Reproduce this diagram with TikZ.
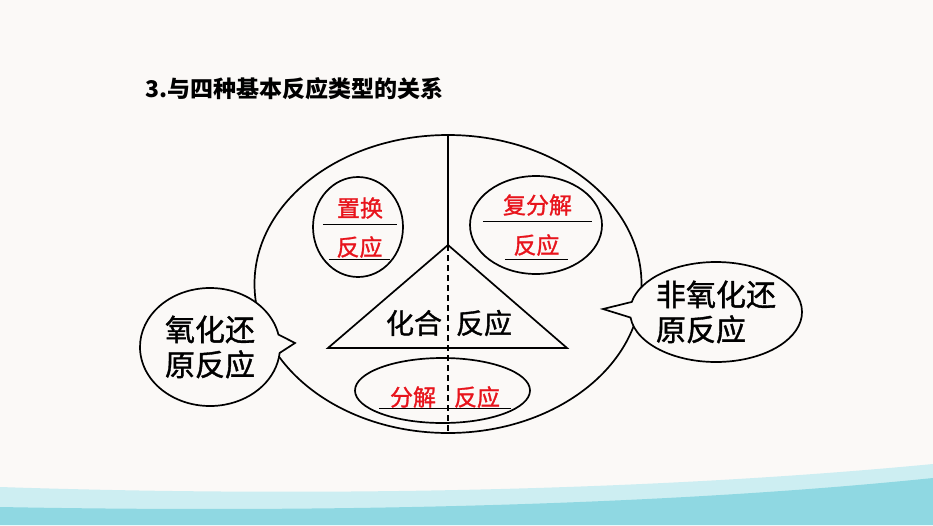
\documentclass[tikz,border=0pt]{standalone}
\usepackage{fontspec}
\newfontfamily\cjk{Noto Sans CJK SC}[FakeBold=1.2]
\newfontfamily\cjkhead{Noto Sans CJK SC}
\usetikzlibrary{shapes.callouts}
\definecolor{paper}{HTML}{FBF9F7}
\definecolor{sea}{HTML}{8FD8E2}
\definecolor{sealight}{HTML}{CDEEF2}
\definecolor{ansred}{HTML}{E8141C}
\tikzset{
  >=stealth,
  outline/.style={line width=1.7pt},
  blank/.style={text=ansred, inner sep=0pt, font=\cjk\fontsize{23pt}{26pt}\selectfont, minimum width=#1},
  uline/.style={line width=1.4pt},
  bubble/.style={ellipse callout, draw, outline, fill=paper, inner sep=0pt, align=left,
    font=\cjk\fontsize{30pt}{35pt}\selectfont, callout pointer arc=18}
}

\begin{document}
\begin{tikzpicture}[x=1pt,y=-1pt]
  \fill[paper] (0,0) rectangle (933,525);
  \useasboundingbox (0,0) rectangle (933,525);
  % brush stroke at the bottom
  \fill[sealight] (0,525) -- (0,487) .. controls (300,497) and (640,492) .. (933,464) -- (933,525) -- cycle;
  \fill[sea] (0,525) -- (0,507) .. controls (320,513) and (660,506) .. (933,478) -- (933,525) -- cycle;

  \node[anchor=west, font=\cjkhead\bfseries\fontsize{23pt}{26pt}\selectfont] (title) at (142,89) {3.与四种基本反应类型的关系};

  % main figure
  \coordinate (top) at (448,135);
  \coordinate (apex) at (448,245);
  \coordinate (bot) at (448,433);
  \draw[outline] (448,284) ellipse [x radius=193.5pt, y radius=149pt];
  \draw[outline] (top) -- (apex);
  \draw[outline] (apex) -- (328,348) -- (567,348) -- cycle;
  \draw[outline] (358,227) ellipse [x radius=45pt, y radius=50pt];
  \draw[outline] (536,225) ellipse [x radius=66pt, y radius=49pt];
  \draw[outline] (442.5,390.5) ellipse [x radius=87.5pt, y radius=32.5pt];
  \draw[outline, dash pattern=on 6pt off 4pt] (apex) -- (bot);

  \node[inner sep=0pt, font=\cjk\fontsize{28pt}{30pt}\selectfont] (huahe) at (449,323) {化合\hspace{14pt}反应};

  % blanks
  \node[blank=74, minimum height=32pt] (zhihuan) at (360,208) {置换};
  \node[blank=61, minimum height=24pt] (fanying1) at (359.5,247) {反应};
  \node[blank=109, minimum height=32pt] (fufenjie) at (537.5,205) {复分解};
  \node[blank=63, minimum height=28pt] (fanying2) at (536.5,245) {反应};
  \node[blank=132, minimum height=22pt] (fenjie) at (445,397) {分解\hspace{18pt}反应};
  \foreach \n in {zhihuan,fanying1,fufenjie,fanying2,fenjie}
    \draw[uline] (\n.south west) -- (\n.south east);

  % speech bubbles
  \node[bubble, minimum width=140pt, minimum height=118pt, callout absolute pointer={(295,343)}] (redox) at (210,347) {氧化还\\原反应};
  \node[bubble, minimum width=172pt, minimum height=100pt, callout absolute pointer={(603,309)}] (nonredox) at (716,312) {非氧化还\\原反应};
\end{tikzpicture}
\end{document}
